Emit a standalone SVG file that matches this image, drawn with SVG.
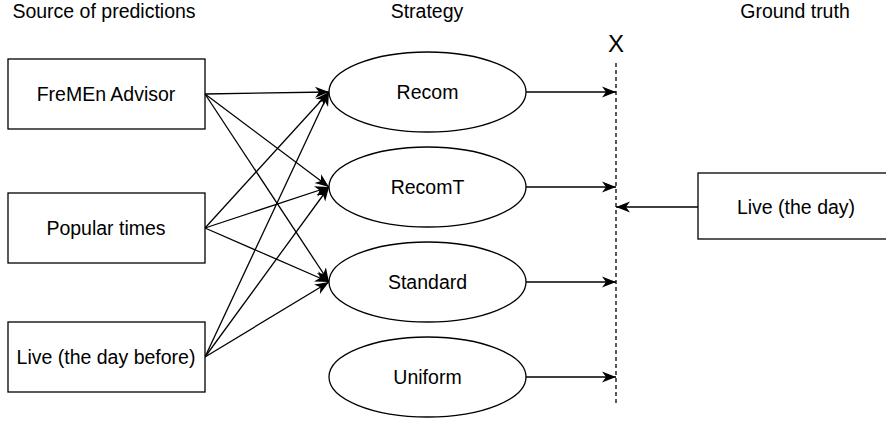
<svg xmlns="http://www.w3.org/2000/svg" width="886" height="422" viewBox="0 0 886 422">
<style>
.box{fill:#fff;stroke:#000;stroke-width:1.3}
.lbl{font-family:"Liberation Sans",Arial,sans-serif;font-size:19.5px;fill:#000;text-anchor:middle}
.hdr{font-family:"Liberation Sans",Arial,sans-serif;font-size:19.5px;fill:#000;text-anchor:middle}
.edge{fill:none;stroke:#000;stroke-width:1.3;marker-end:url(#arr)}
</style>
<defs>
<marker id="arr" markerUnits="userSpaceOnUse" markerWidth="15" markerHeight="13" refX="14" refY="6.5" orient="auto">
<path d="M0,1 L14,6.5 L0,12 L4,6.5 Z" fill="#000"/>
</marker>
</defs>
<rect width="886" height="422" fill="#fff"/>
<text class="hdr" x="104" y="18">Source of predictions</text>
<text class="hdr" x="427" y="18">Strategy</text>
<text class="hdr" x="795" y="18">Ground truth</text>
<g id="connectors">
<path class="edge" d="M205,94 L329,92"/>
<path class="edge" d="M205,94 L329,187"/>
<path class="edge" d="M205,94 L329,282"/>
<path class="edge" d="M205,228 L329,92"/>
<path class="edge" d="M205,228 L329,187"/>
<path class="edge" d="M205,228 L329,282"/>
<path class="edge" d="M205,357 L329,92"/>
<path class="edge" d="M205,357 L329,187"/>
<path class="edge" d="M205,357 L329,282"/>
<path class="edge" d="M526,92 L616,92"/>
<path class="edge" d="M526,187 L616,187"/>
<path class="edge" d="M526,282 L616,282"/>
<path class="edge" d="M526,377 L616,377"/>
<path class="edge" d="M698,207 L616,207"/>
</g>
<g id="xline">
<line x1="616" y1="63" x2="616" y2="404" stroke="#000" stroke-width="1.3" stroke-dasharray="4 3"/>
<text x="616" y="52" font-family="Liberation Sans,Arial,sans-serif" font-size="24" text-anchor="middle">X</text>
</g>
<g id="fremen"><rect class="box" x="8" y="59" width="197" height="70"/><text class="lbl" x="106" y="101">FreMEn Advisor</text></g>
<g id="popular"><rect class="box" x="8" y="193" width="197" height="70"/><text class="lbl" x="106" y="235">Popular times</text></g>
<g id="livebefore"><rect class="box" x="8" y="322" width="197" height="70"/><text class="lbl" x="106" y="364">Live (the day before)</text></g>
<g id="recom"><ellipse class="box" cx="427.5" cy="92" rx="98.5" ry="40"/><text class="lbl" x="427.5" y="99">Recom</text></g>
<g id="recomt"><ellipse class="box" cx="427.5" cy="187" rx="98.5" ry="40"/><text class="lbl" x="427.5" y="194">RecomT</text></g>
<g id="standard"><ellipse class="box" cx="427.5" cy="282" rx="98.5" ry="40"/><text class="lbl" x="427.5" y="289">Standard</text></g>
<g id="uniform"><ellipse class="box" cx="427.5" cy="377" rx="98.5" ry="40"/><text class="lbl" x="427.5" y="384">Uniform</text></g>
<g id="liveday"><rect class="box" x="698" y="173" width="197" height="66"/><text class="lbl" x="796" y="214">Live (the day)</text></g>
</svg>
